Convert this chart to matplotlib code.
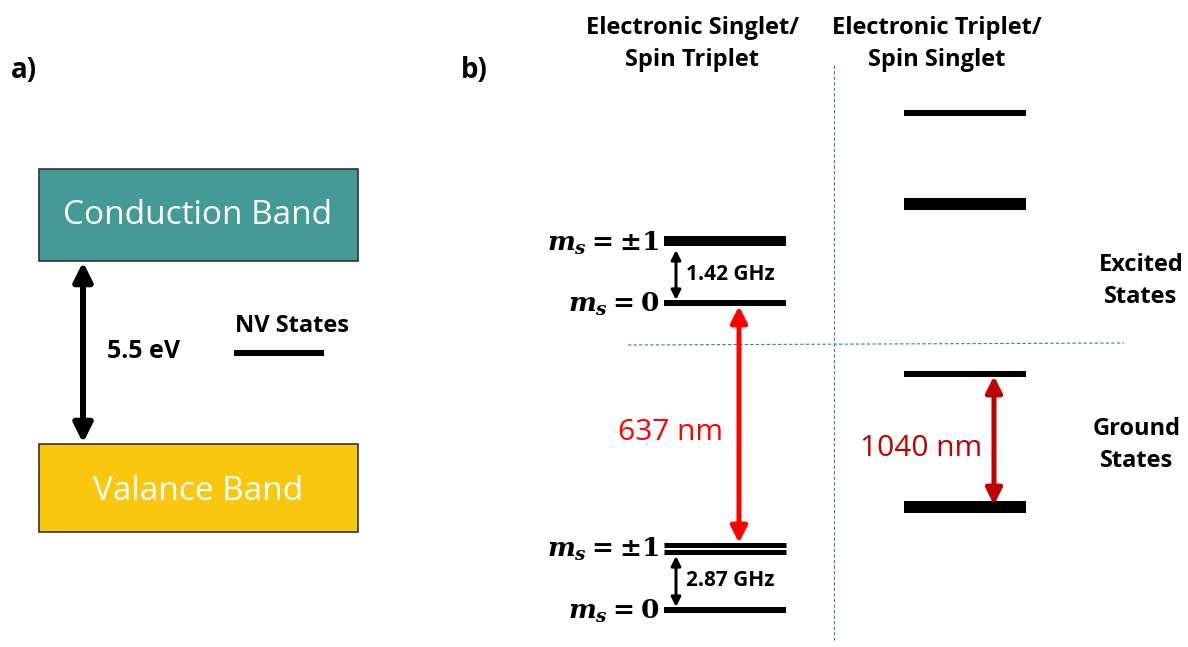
import matplotlib.pyplot as plt
from matplotlib.patches import Rectangle

plt.rcParams['font.family'] = ['Open Sans', 'DejaVu Sans']
plt.rcParams['mathtext.fontset'] = 'custom'
plt.rcParams['mathtext.rm'] = 'DejaVu Serif:bold'
plt.rcParams['mathtext.it'] = 'DejaVu Serif:italic:bold'
plt.rcParams['mathtext.bf'] = 'DejaVu Serif:bold'

# ---------------------------------------------------------------------------
# Diagram data (canvas units, y grows downward)
# ---------------------------------------------------------------------------
band_names = ["Conduction Band", "Valance Band"]
band_colors = ["#449A97", "#F9C80E"]
band_top = [169, 444]
band_bottom = [261, 532]
band_text_y = [215, 491]
band_gap_label = "5.5 eV"

# spin-triplet manifold: (y, thickness px)
triplet_levels = [241, 303, 545, 552, 610]
triplet_widths = [10, 6, 5, 5, 6]
triplet_labels = [r"$m_s={\pm}1$", r"$m_s=0$", r"$m_s={\pm}1$", r"$m_s=0$"]
triplet_label_y = [243, 304, 549, 611]

# spin-singlet manifold
singlet_levels = [113, 204, 374, 507]
singlet_widths = [6, 12, 6, 12]

zfs_labels = ["1.42 GHz", "2.87 GHz"]
zfs_span = [(250, 300), (556, 607)]

optical_labels = ["637 nm", "1040 nm"]
optical_span = [(306, 543), (376, 505)]
optical_colors = ["#FF0000", "#C00000"]

# ---------------------------------------------------------------------------
W, H = 1188, 647
fig = plt.figure(figsize=(W / 100, H / 100), dpi=100)
ax = fig.add_axes([0, 0, 1, 1])
ax.set_xlim(0, W)
ax.set_ylim(H, 0)
ax.axis("off")

PX = 72 / 100  # points per pixel

# panel tags
ax.text(11, 71, "a)", fontsize=20, fontweight="bold", va="center", ha="left")
ax.text(461, 71, "b)", fontsize=20, fontweight="bold", va="center", ha="left")

# ---- panel a: bands -------------------------------------------------------
for name, col, top, bot, ty in zip(band_names, band_colors, band_top,
                                   band_bottom, band_text_y):
    ax.add_patch(Rectangle((39, top), 319, bot - top, facecolor=col,
                           edgecolor="#333333", linewidth=1.2, zorder=2))
    ax.text(198, ty, name, color="white", fontsize=24,
            ha="center", va="center", zorder=3)

ax.annotate("", xy=(83, band_bottom[0] + 1), xytext=(83, band_top[1] - 1),
            arrowprops=dict(arrowstyle="<|-|>", color="black", lw=6 * PX,
                            mutation_scale=28, shrinkA=0, shrinkB=0))
ax.text(107, 352, band_gap_label, fontsize=18, fontweight="bold", va="center")
ax.text(235, 326, "NV States", fontsize=17, fontweight="bold", va="center")
ax.plot([234, 324], [353, 353], color="black", lw=6 * PX, solid_capstyle="butt")

# ---- panel b: headers and separators --------------------------------------
ax.text(692, 44, "Electronic Singlet/\nSpin Triplet", fontsize=17,
        fontweight="bold", ha="center", va="center", linespacing=1.4)
ax.text(937, 44, "Electronic Triplet/\nSpin Singlet", fontsize=17,
        fontweight="bold", ha="center", va="center", linespacing=1.4)

ax.plot([834, 834], [65, 640], color="#4472C4", lw=0.8, ls=(0, (3, 2)))
ax.plot([628, 1124], [345, 343], color="#4472C4", lw=0.8, ls=(0, (3, 2)))

ax.text(1141, 281, "Excited\nStates", fontsize=17, fontweight="bold",
        ha="center", va="center", linespacing=1.4)
ax.text(1137, 445, "Ground\nStates", fontsize=17, fontweight="bold",
        ha="center", va="center", linespacing=1.45)

# ---- levels ---------------------------------------------------------------
for y, w in zip(triplet_levels, triplet_widths):
    ax.plot([664, 786], [y, y], color="black", lw=w * PX, solid_capstyle="butt")
for y, w in zip(singlet_levels, singlet_widths):
    ax.plot([904, 1026], [y, y], color="black", lw=w * PX, solid_capstyle="butt")

for lab, y in zip(triplet_labels, triplet_label_y):
    ax.text(659, y, lab, fontsize=19, ha="right", va="center")

# zero-field splittings
for lab, (y0, y1) in zip(zfs_labels, zfs_span):
    ax.annotate("", xy=(676, y0), xytext=(676, y1),
                arrowprops=dict(arrowstyle="<|-|>", color="black", lw=3 * PX,
                                mutation_scale=14, shrinkA=0, shrinkB=0))
    ax.text(686, (y0 + y1) / 2 - 1, lab, fontsize=15, fontweight="bold",
            va="center")

# optical transitions
for lab, (y0, y1), col, x, tx in zip(optical_labels, optical_span,
                                     optical_colors, [739, 994], [670, 921]):
    ax.annotate("", xy=(x, y0), xytext=(x, y1),
                arrowprops=dict(arrowstyle="<|-|>", color=col, lw=5 * PX,
                                mutation_scale=24, shrinkA=0, shrinkB=0))
    ax.text(tx, (y0 + y1) / 2 + 8, lab, color=col, fontsize=21.5,
            ha="center", va="center")

fig.savefig("out.png", dpi=100, facecolor="white")
